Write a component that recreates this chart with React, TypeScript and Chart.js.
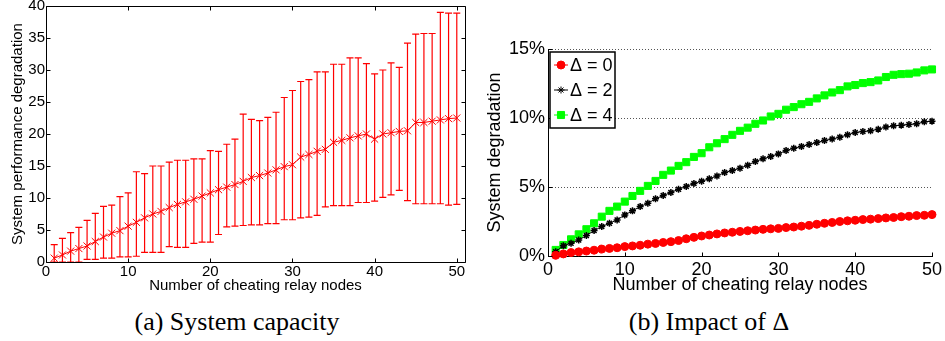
import React, { useEffect, useRef } from "react";
import { Chart, registerables } from "chart.js";
import { drawPoint } from "chart.js/helpers";

Chart.register(...registerables);
Chart.defaults.font.family = "'Liberation Sans', Arial, Helvetica, sans-serif";
Chart.defaults.color = "#000";

// ---------- data: (a) System capacity ----------
const nodes = [
  1, 2, 3, 4, 5, 6, 7, 8, 9, 10, 11, 12, 13, 14, 15, 16, 17, 18, 19, 20, 21, 22, 23, 24, 25,
  26, 27, 28, 29, 30, 31, 32, 33, 34, 35, 36, 37, 38, 39, 40, 41, 42, 43, 44, 45, 46, 47, 48, 49, 50,
];
const capMean = [
  0.6, 1.1, 1.7, 2.1, 2.5, 3.2, 3.9, 4.5, 4.9, 5.6, 6.2, 6.9, 7.5, 7.9, 8.5, 9.0, 9.4, 9.8, 10.3, 10.8,
  11.3, 11.7, 12.1, 12.6, 13.2, 13.5, 13.9, 14.4, 14.9, 15.2, 16.4, 16.8, 17.3, 17.6, 18.7, 19.0, 19.4,
  19.7, 20.0, 19.2, 20.0, 20.2, 20.4, 20.5, 21.8, 21.8, 22.0, 22.2, 22.4, 22.5,
];
const capUpper = [
  2.7, 3.7, 4.6, 5.4, 6.5, 7.6, 8.7, 8.9, 10.2, 10.8, 14.1, 13.8, 15.0, 15.0, 15.6, 15.9, 15.9, 16.1,
  16.1, 17.4, 17.3, 18.4, 19.2, 23.1, 22.3, 22.1, 22.6, 23.4, 25.7, 26.8, 28.2, 28.5, 29.7, 29.7, 30.9,
  30.9, 31.9, 31.9, 31.0, 29.4, 30.0, 31.1, 30.4, 34.2, 35.6, 35.7, 35.7, 39.0, 38.9, 38.9,
];
const capLower = [
  0, 0, 0, 0, 0.4, 0.4, 0.6, 0.6, 0.8, 0.8, 0.9, 1.5, 1.5, 1.5, 2.4, 2.3, 2.3, 2.9, 3.1, 3.1, 4.3, 5.5,
  5.6, 5.7, 5.8, 5.8, 6.0, 6.0, 6.6, 6.6, 6.9, 7.0, 7.3, 8.6, 8.8, 8.8, 8.8, 9.3, 9.3, 9.5, 10.1, 10.5,
  11.2, 9.6, 9.1, 9.1, 9.1, 9.1, 8.9, 9.0,
];
const xTicksA = [0, 10, 20, 30, 40, 50];
const yTicksA = [0, 5, 10, 15, 20, 25, 30, 35, 40];

// ---------- data: (b) Impact of Delta (percent) ----------
const delta0 = [
  0.05, 0.15, 0.25, 0.3, 0.36, 0.42, 0.5, 0.55, 0.6, 0.68, 0.73, 0.78, 0.86, 0.91, 0.98, 1.04, 1.12,
  1.25, 1.35, 1.45, 1.52, 1.6, 1.67, 1.72, 1.78, 1.83, 1.88, 1.93, 1.97, 2.0, 2.06, 2.1, 2.16, 2.22,
  2.3, 2.37, 2.43, 2.5, 2.55, 2.59, 2.64, 2.67, 2.71, 2.76, 2.79, 2.85, 2.88, 2.93, 2.95, 3.0,
];
const delta2 = [
  0.31, 0.75, 0.92, 1.16, 1.48, 1.84, 2.13, 2.37, 2.61, 2.98, 3.27, 3.58, 3.82, 4.14, 4.38, 4.6, 4.84,
  5.04, 5.25, 5.42, 5.59, 5.8, 6.05, 6.19, 6.36, 6.58, 6.85, 7.04, 7.21, 7.4, 7.64, 7.81, 7.93, 8.08,
  8.22, 8.37, 8.47, 8.61, 8.78, 8.95, 9.02, 9.07, 9.19, 9.34, 9.43, 9.48, 9.53, 9.58, 9.72, 9.77,
];
const delta4 = [
  0.44, 0.8, 1.21, 1.57, 1.94, 2.37, 2.85, 3.27, 3.58, 3.94, 4.35, 4.72, 5.08, 5.44, 5.88, 6.19, 6.53,
  6.8, 7.18, 7.45, 7.88, 8.17, 8.47, 8.78, 9.07, 9.3, 9.58, 9.82, 10.11, 10.3, 10.6, 10.79, 11.0,
  11.17, 11.42, 11.64, 11.85, 12.02, 12.29, 12.39, 12.53, 12.6, 12.72, 12.97, 13.13, 13.18, 13.21,
  13.3, 13.45, 13.52,
];
const legendLabels = ["\u0394 = 0", "\u0394 = 2", "\u0394 = 4"];
const xTicksB = [0, 10, 20, 30, 40, 50];
const yTicksB = [0, 5, 10, 15];

const px = (v: number) => Math.round(v) + 0.5;

const errorBarPlugin = {
  id: "errorBars",
  beforeDatasetsDraw(chart: any) {
    const { ctx, scales, chartArea: a } = chart;
    const x = scales.x, y = scales.y;
    ctx.save();
    ctx.beginPath();
    ctx.rect(a.left, a.top, a.right - a.left, a.bottom - a.top);
    ctx.clip();
    ctx.strokeStyle = "#ff0000";
    ctx.lineWidth = 1.2;
    nodes.forEach((n, i) => {
      const cx = x.getPixelForValue(n);
      const yt = y.getPixelForValue(capUpper[i]);
      const yb = y.getPixelForValue(capLower[i]);
      ctx.beginPath();
      ctx.moveTo(cx, yt);
      ctx.lineTo(cx, yb);
      ctx.moveTo(cx - 3.5, yt);
      ctx.lineTo(cx + 3.5, yt);
      ctx.moveTo(cx - 3.5, yb);
      ctx.lineTo(cx + 3.5, yb);
      ctx.stroke();
    });
    ctx.restore();
  },
};

const makeFramePlugin = (box: boolean) => ({
  id: "frameTicks",
  afterDraw(chart: any) {
    const { ctx, scales, chartArea: a } = chart;
    const x = scales.x, y = scales.y;
    const L = 4;
    ctx.save();
    ctx.strokeStyle = "#000";
    ctx.lineWidth = 1;
    ctx.beginPath();
    const l = px(a.left), r = px(a.right), t = px(a.top), b = px(a.bottom);
    if (box) {
      ctx.rect(l, t, r - l, b - t);
    }
    x.ticks.forEach((tk: any) => {
      const p = px(x.getPixelForValue(tk.value));
      ctx.moveTo(p, b);
      ctx.lineTo(p, b - L);
      if (box) {
        ctx.moveTo(p, t);
        ctx.lineTo(p, t + L);
      }
    });
    y.ticks.forEach((tk: any) => {
      const p = px(y.getPixelForValue(tk.value));
      ctx.moveTo(l, p);
      ctx.lineTo(l + L, p);
      if (box) {
        ctx.moveTo(r, p);
        ctx.lineTo(r - L, p);
      }
    });
    ctx.stroke();
    ctx.restore();
  },
});

const boxLegendPlugin = {
  id: "boxLegend",
  afterDraw(chart: any) {
    const { ctx, chartArea: a } = chart;
    const x0 = Math.round(a.left + 1.5), y0 = Math.round(a.top + 3);
    const w = 65, h = 76;
    ctx.save();
    ctx.fillStyle = "#fff";
    ctx.fillRect(x0, y0, w, h);
    ctx.lineWidth = 1.5;
    ctx.strokeStyle = "#000";
    ctx.strokeRect(x0, y0, w, h);
    chart.data.datasets.forEach((ds: any, i: number) => {
      const cy = y0 + 13 + i * 25;
      ctx.strokeStyle = ds.borderColor;
      ctx.lineWidth = 1;
      ctx.beginPath();
      ctx.moveTo(x0 + 4, cy);
      ctx.lineTo(x0 + 18, cy);
      ctx.stroke();
      ctx.fillStyle = ds.pointBackgroundColor;
      ctx.strokeStyle = ds.pointBorderColor;
      drawPoint(ctx, { pointStyle: ds.pointStyle, rotation: 0, radius: ds.pointRadius, borderWidth: 1 }, x0 + 11, cy);
      ctx.fillStyle = "#000";
      ctx.font = "18px 'Liberation Sans', Arial, sans-serif";
      ctx.textBaseline = "middle";
      ctx.textAlign = "left";
      ctx.fillText(ds.label, x0 + 20, cy + 1);
    });
    ctx.restore();
  },
};

const zeroPad = (s: any) => {
  s.paddingTop = 0;
  s.paddingBottom = 0;
  s.paddingLeft = 0;
  s.paddingRight = 0;
};

export default function App() {
  const refA = useRef<HTMLCanvasElement>(null);
  const refB = useRef<HTMLCanvasElement>(null);

  useEffect(() => {
    const chartA = new Chart(refA.current as HTMLCanvasElement, {
      type: "line",
      data: {
        datasets: [
          {
            label: "mean",
            data: nodes.map((n, i) => ({ x: n, y: capMean[i] })),
            borderColor: "#ff0000",
            borderWidth: 1,
            pointStyle: "crossRot",
            pointRadius: 5,
            pointBorderColor: "#ff0000",
            pointBackgroundColor: "#ff0000",
            pointBorderWidth: 1,
            tension: 0,
          },
        ],
      },
      options: {
        animation: false,
        responsive: false,
        devicePixelRatio: 1,
        layout: { padding: { left: 0, top: 5, right: 10, bottom: 0 } },
        plugins: { legend: { display: false }, tooltip: { enabled: false } },
        scales: {
          x: {
            type: "linear",
            min: 0,
            max: 51,
            afterBuildTicks: (s: any) => {
              s.ticks = xTicksA.map((v) => ({ value: v }));
            },
            afterFit: (s: any) => {
              s.height = 38;
              zeroPad(s);
            },
            grid: { display: false, drawTicks: false },
            border: { display: false },
            ticks: { color: "#000", font: { size: 15 }, padding: 1, maxRotation: 0, autoSkip: false },
            title: {
              display: true,
              text: "Number of cheating relay nodes",
              color: "#000",
              font: { size: 15 },
              padding: { top: 0, bottom: 5 },
            },
          },
          y: {
            type: "linear",
            min: 0,
            max: 40,
            afterBuildTicks: (s: any) => {
              s.ticks = yTicksA.map((v) => ({ value: v }));
            },
            afterFit: (s: any) => {
              s.width = 46;
              zeroPad(s);
            },
            grid: { display: false, drawTicks: false },
            border: { display: false },
            ticks: { color: "#000", font: { size: 15 }, padding: 1, autoSkip: false },
            title: {
              display: true,
              text: "System performance degradation",
              color: "#000",
              font: { size: 15 },
              padding: { top: 8.5, bottom: 0 },
            },
          },
        },
      },
      plugins: [errorBarPlugin, makeFramePlugin(true)],
    } as any);

    const chartB = new Chart(refB.current as HTMLCanvasElement, {
      type: "line",
      data: {
        datasets: [
          {
            label: legendLabels[0],
            data: nodes.map((n, i) => ({ x: n, y: delta0[i] })),
            borderColor: "#ff0000",
            borderWidth: 1,
            pointStyle: "circle",
            pointRadius: 4,
            pointBackgroundColor: "#ff0000",
            pointBorderColor: "#ff0000",
            pointBorderWidth: 1,
            clip: false,
          },
          {
            label: legendLabels[1],
            data: nodes.map((n, i) => ({ x: n, y: delta2[i] })),
            borderColor: "#000000",
            borderWidth: 1,
            pointStyle: "star",
            pointRadius: 3.5,
            pointBackgroundColor: "#000000",
            pointBorderColor: "#000000",
            pointBorderWidth: 1.5,
            clip: false,
          },
          {
            label: legendLabels[2],
            data: nodes.map((n, i) => ({ x: n, y: delta4[i] })),
            borderColor: "#00ff00",
            borderWidth: 1,
            pointStyle: "rect",
            pointRadius: 5,
            pointBackgroundColor: "#00ff00",
            pointBorderColor: "#00ff00",
            pointBorderWidth: 1,
            clip: false,
          },
        ],
      },
      options: {
        animation: false,
        responsive: false,
        devicePixelRatio: 1,
        layout: { padding: { left: 0, top: 49, right: 13, bottom: 0 } },
        plugins: { legend: { display: false }, tooltip: { enabled: false } },
        scales: {
          x: {
            type: "linear",
            min: 0,
            max: 50,
            afterBuildTicks: (s: any) => {
              s.ticks = xTicksB.map((v) => ({ value: v }));
            },
            afterFit: (s: any) => {
              s.height = 44;
              zeroPad(s);
            },
            grid: { display: false, drawTicks: false },
            border: { display: true, color: "#000", width: 1 },
            ticks: { color: "#000", font: { size: 18 }, padding: 3, maxRotation: 0, autoSkip: false },
            title: {
              display: true,
              text: "Number of cheating relay nodes",
              color: "#000",
              font: { size: 18 },
              padding: { top: 0, bottom: 4 },
            },
          },
          y: {
            type: "linear",
            min: 0,
            max: 15,
            afterBuildTicks: (s: any) => {
              s.ticks = yTicksB.map((v) => ({ value: v }));
            },
            afterFit: (s: any) => {
              s.width = 73;
              zeroPad(s);
            },
            grid: {
              display: true,
              drawTicks: false,
              color: (c: any) => (c.tick && c.tick.value === 0 ? "rgba(0,0,0,0)" : "#555"),
              lineWidth: 1,
            },
            border: { display: true, color: "#000", width: 1, dash: [1, 2] },
            ticks: {
              color: "#000",
              font: { size: 18 },
              padding: 3,
              autoSkip: false,
              callback: (v: any) => v + "%",
            },
            title: {
              display: true,
              text: "System degradation",
              color: "#000",
              font: { size: 18 },
              padding: { top: 9, bottom: 0 },
            },
          },
        },
      },
      plugins: [makeFramePlugin(false), boxLegendPlugin],
    } as any);

    return () => {
      chartA.destroy();
      chartB.destroy();
    };
  }, []);

  const captionStyle: React.CSSProperties = {
    position: "absolute",
    top: 307,
    width: 320,
    textAlign: "center",
    fontFamily: "'Liberation Serif', 'Times New Roman', serif",
    fontSize: 26,
    lineHeight: "30px",
    color: "#000",
    whiteSpace: "nowrap",
  };

  return (
    <div style={{ position: "absolute", left: 0, top: 0, width: 945, height: 341, background: "#fff", overflow: "hidden" }}>
      <canvas ref={refA} width={475} height={300} style={{ position: "absolute", left: 0, top: 0 }} />
      <canvas ref={refB} width={470} height={300} style={{ position: "absolute", left: 475, top: 0 }} />
      <div style={{ ...captionStyle, left: 237 - 160 }}>(a) System capacity</div>
      <div style={{ ...captionStyle, left: 709 - 160 }}>(b) Impact of {"\u0394"}</div>
    </div>
  );
}
